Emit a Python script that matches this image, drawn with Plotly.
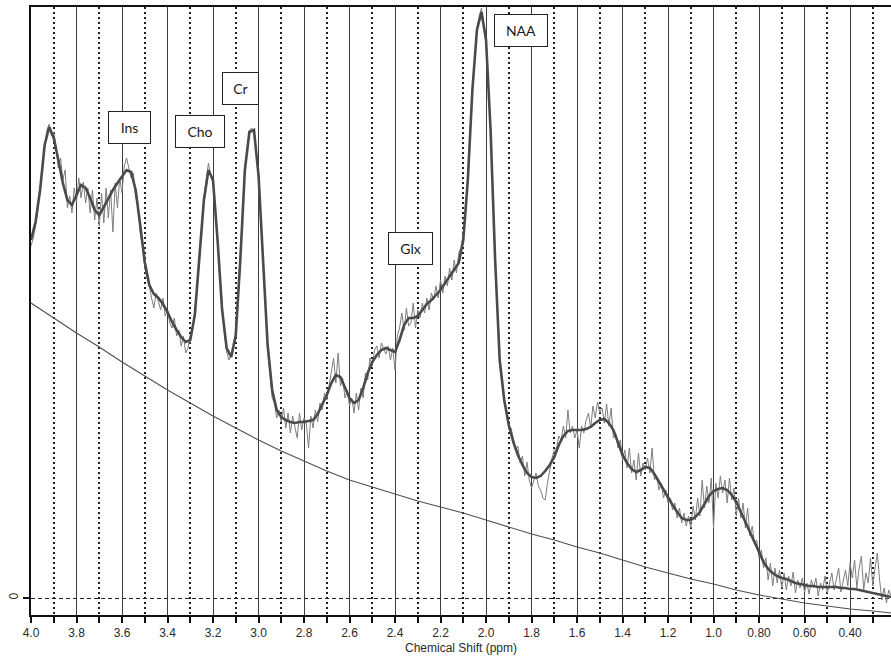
import plotly.graph_objects as go

# Raw MR spectrum, sampled every 0.01 ppm from 4.00 down to 0.22 ppm (arbitrary units)
raw_start, raw_step = 4.00, 0.01
raw_signal = [
    352, 360, 372, 388, 410, 432, 452, 468, 474, 462, 466,
    452, 430, 440, 418, 428, 390, 402, 385, 410, 396,
    420, 400, 416, 395, 410, 385, 408, 378, 400, 372,
    405, 375, 410, 380, 408, 366, 415, 390, 420, 405,
    432, 440, 430, 420, 425, 400, 395, 365, 352, 330,
    320, 312, 300, 290, 305, 296, 288, 300, 282, 288,
    275, 270, 280, 262, 268, 252, 262, 245, 250, 262,
    268, 286, 312, 335, 370, 400, 418, 435, 422, 415,
    385, 355, 320, 286, 265, 246, 238, 243, 250, 266,
    302, 340, 385, 430, 450, 468, 470, 466, 444, 420,
    378, 335, 292, 250, 226, 200, 195, 180, 188, 176,
    190, 170, 185, 165, 182, 172, 160, 185, 168, 180,
    175, 150, 182, 170, 188, 176, 195, 188, 205, 198,
    212, 222, 240, 215, 245, 212, 220, 200, 208, 192,
    200, 185, 205, 188, 210, 200, 225, 218, 240, 232,
    248, 252, 240, 255, 250, 244, 252, 238, 250, 228,
    262, 270, 285, 268, 290, 272, 275, 295, 270, 288,
    280, 295, 285, 300, 288, 305, 298, 312, 300, 318,
    305, 322, 312, 330, 318, 338, 325, 345, 350, 365,
    385, 420, 465, 510, 540, 570, 582, 590, 570, 556,
    512, 470, 405, 340, 290, 238, 215, 196, 188, 170,
    170, 160, 148, 152, 135, 142, 122, 136, 118, 110,
    118, 125, 112, 108, 100, 98, 115, 128, 140, 148,
    150, 162, 158, 172, 160, 188, 165, 172, 160, 168,
    150, 172, 165, 178, 185, 170, 192, 180, 196, 185,
    190, 175, 194, 172, 190, 160, 165, 150, 158, 138,
    148, 130, 150, 125, 138, 118, 145, 122, 135, 128,
    140, 125, 150, 118, 122, 108, 115, 100, 108, 95,
    100, 88, 95, 80, 90, 75, 85, 72, 82, 70,
    92, 78, 100, 82, 118, 90, 112, 95, 120, 70,
    115, 100, 122, 105, 118, 95, 120, 98, 110, 82,
    100, 80, 95, 70, 90, 62, 72, 55, 58, 40,
    48, 30, 40, 18, 35, 12, 30, 15, 28, 10,
    25, 8, 22, 12, 26, 5, 18, 10, 20, 6,
    15, 4, 18, 10, 20, 2, 15, 8, 22, 5,
    14, 25, 8, 20, 30, 6, 18, 28, 12, 35,
    20, 38, 10, 30, 42, 8, 25, 15, 40, 12,
    30, 45, 18, -2, 10, -5, 8, 2,
]

# Fitted model spectrum, sampled every 0.02 ppm from 4.00 down to 0.22 ppm
fit_start, fit_step = 4.00, 0.02
fit_signal = [
    358, 376, 408, 453, 471, 460, 438, 415, 398, 393,
    403, 413, 410, 400, 388, 383, 391, 400, 408, 415,
    422, 428, 426, 408, 373, 336, 313, 304, 300, 294,
    286, 276, 268, 261, 256, 258, 283, 338, 398, 428,
    418, 358, 288, 250, 241, 263, 338, 428, 466, 468,
    423, 338, 253, 208, 188, 181, 178, 176, 175, 176,
    176, 177, 178, 184, 193, 203, 215, 223, 221, 210,
    200, 195, 198, 210, 225, 236, 243, 248, 250, 248,
    246, 258, 273, 280, 280, 282, 288, 294, 298, 303,
    308, 315, 322, 328, 335, 358, 418, 508, 568, 586,
    558, 468, 338, 238, 198, 173, 156, 143, 133, 125,
    121, 120, 122, 127, 133, 141, 153, 162, 167, 168,
    168, 168, 169, 171, 175, 178, 179, 175, 168, 156,
    143, 135, 129, 126, 128, 131, 130, 124, 116, 108,
    100, 93, 86, 80, 78, 78, 81, 86, 94, 102,
    107, 109, 110, 108, 103, 96, 86, 76, 66, 55,
    45, 36, 29, 25, 22, 20, 19, 17, 15, 14,
    13, 12, 12, 11, 11, 11, 11, 11, 10, 10,
    9, 9, 8, 7, 6, 5, 4, 3, 2, 1,
]

# Baseline estimate
baseline_ppm = [4.0, 3.9, 3.8, 3.7, 3.6, 3.5, 3.4, 3.3, 3.2, 3.1,
                3.0, 2.9, 2.8, 2.7, 2.6, 2.5, 2.4, 2.3, 2.2, 2.1,
                2.0, 1.9, 1.8, 1.7, 1.6, 1.5, 1.4, 1.3, 1.2, 1.1,
                1.0, 0.9, 0.8, 0.7, 0.6, 0.5, 0.4, 0.3, 0.22]
baseline_signal = [295, 280, 265, 251, 236, 222, 208, 195, 182, 170,
                   158, 147, 137, 127, 118, 111, 104, 97, 91, 85,
                   78, 71, 64, 58, 51, 45, 38, 31, 25, 19,
                   14, 8, 3, -1, -5, -8, -11, -13, -15]

# Metabolite labels: name, ppm position, height
label_names = ["Ins", "Cho", "Cr", "Glx", "NAA"]
label_ppm = [3.566, 3.256, 3.078, 2.333, 1.846]
label_height = [471, 467, 510, 350, 568]
label_width = [37, 44, 31, 39, 48]

# Axis ticks
major_ticks = [4.0, 3.8, 3.6, 3.4, 3.2, 3.0, 2.8, 2.6, 2.4, 2.2,
               2.0, 1.8, 1.6, 1.4, 1.2, 1.0, 0.8, 0.6, 0.4]
major_labels = ["4.0", "3.8", "3.6", "3.4", "3.2", "3.0", "2.8", "2.6", "2.4", "2.2",
                "2.0", "1.8", "1.6", "1.4", "1.2", "1.0", "0.80", "0.60", "0.40"]
minor_ticks = [3.9, 3.7, 3.5, 3.3, 3.1, 2.9, 2.7, 2.5, 2.3, 2.1,
               1.9, 1.7, 1.5, 1.3, 1.1, 0.9, 0.7, 0.5, 0.3]

raw_ppm = [round(raw_start - raw_step * i, 2) for i in range(len(raw_signal))]
fit_ppm = [round(fit_start - fit_step * i, 2) for i in range(len(fit_signal))]

fig = go.Figure()

fig.add_trace(go.Scatter(
    x=raw_ppm, y=raw_signal, mode="lines",
    line=dict(color="#7e7e7e", width=1), hoverinfo="skip"))

fig.add_trace(go.Scatter(
    x=fit_ppm, y=fit_signal, mode="lines",
    line=dict(color="#4a4a4a", width=2.6), hoverinfo="skip"))

fig.add_trace(go.Scatter(
    x=baseline_ppm, y=baseline_signal, mode="lines",
    line=dict(color="#505050", width=1.1), hoverinfo="skip"))

for name, px, py, w in zip(label_names, label_ppm, label_height, label_width):
    fig.add_annotation(
        x=px, y=py, xref="x", yref="y", text=name, showarrow=False,
        font=dict(family="Lato", size=14, color="#1a1a1a"),
        bgcolor="white", bordercolor="#222222", borderwidth=1,
        borderpad=2, width=w, height=27, align="center", valign="middle")

fig.update_layout(
    width=891, height=658,
    margin=dict(l=31, r=0, t=7, b=43),
    paper_bgcolor="white", plot_bgcolor="white",
    showlegend=False,
    font=dict(family="Arial, Liberation Sans", color="#222222"),
)

fig.update_xaxes(
    range=[4.0, 0.22],
    tickvals=major_ticks, ticktext=major_labels,
    tickfont=dict(family="Arial, Liberation Sans", size=12, color="#2a2a2a"),
    ticks="outside", ticklen=6, tickwidth=1.5, tickcolor="#111111",
    showline=True, linecolor="#111111", linewidth=2, mirror=True,
    showgrid=True, gridcolor="#3c3c3c", gridwidth=1.3,
    zeroline=False,
    minor=dict(tickvals=minor_ticks, ticks="outside", ticklen=6,
               tickwidth=1.5, tickcolor="#111111",
               showgrid=True, gridcolor="#1e1e1e", gridwidth=1.6,
               griddash="2px,3px"),
    title=dict(text="Chemical Shift (ppm)", standoff=4,
               font=dict(family="Arial, Liberation Sans", size=12, color="#2a2a2a")),
)

fig.update_yaxes(
    range=[-17, 591],
    tickvals=[0], ticktext=["0"], tickangle=-90,
    tickfont=dict(family="Arial, Liberation Sans", size=12, color="#2a2a2a"),
    ticks="outside", ticklen=6, tickwidth=1.5, tickcolor="#111111",
    showline=True, linecolor="#111111", linewidth=1.6,
    showgrid=True, gridcolor="#222222", gridwidth=1.3, griddash="4px,3px",
    zeroline=False,
)

fig.write_html("out.html")
